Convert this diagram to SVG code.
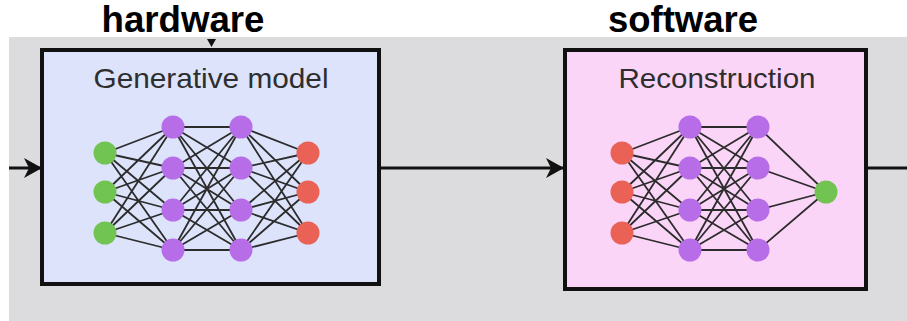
<svg xmlns="http://www.w3.org/2000/svg" xmlns:xlink="http://www.w3.org/1999/xlink" width="907" height="321" viewBox="0 0 907 321">
<style>
.lbl{font-family:"Liberation Sans",Arial,sans-serif;font-weight:bold;font-size:36px;fill:#000;text-anchor:middle}
.ttl{font-family:"Liberation Sans",Arial,sans-serif;font-size:28px;fill:#2e2e2e;text-anchor:middle}
.box{stroke:#111;stroke-width:4}
.edge{stroke:#2c2c2c;stroke-width:1.8;fill:none}
.g{fill:#72c452}.p{fill:#b86de8}.r{fill:#ea6156}
.conn{stroke:#111;stroke-width:3;fill:none}
</style>
<defs>
<marker id="ah" viewBox="0 0 18 20" refX="17" refY="10" markerWidth="18" markerHeight="20" markerUnits="userSpaceOnUse" orient="auto">
<path d="M0 0 L18 10 L0 20 L5 10 Z" fill="#111"/>
</marker>
<path id="e01" class="edge" d="M105 153L173 127M105 153L173 168M105 153L173 210M105 153L173 250M105 192L173 127M105 192L173 168M105 192L173 210M105 192L173 250M105 233L173 127M105 233L173 168M105 233L173 210M105 233L173 250"/>
<path id="e12" class="edge" d="M173 127L241 127M173 127L241 168M173 127L241 210M173 127L241 250M173 168L241 127M173 168L241 168M173 168L241 210M173 168L241 250M173 210L241 127M173 210L241 168M173 210L241 210M173 210L241 250M173 250L241 127M173 250L241 168M173 250L241 210M173 250L241 250"/>
<g id="mid">
<circle class="p" cx="173" cy="127" r="11.5"/><circle class="p" cx="173" cy="168" r="11.5"/><circle class="p" cx="173" cy="210" r="11.5"/><circle class="p" cx="173" cy="250" r="11.5"/>
<circle class="p" cx="241" cy="127" r="11.5"/><circle class="p" cx="241" cy="168" r="11.5"/><circle class="p" cx="241" cy="210" r="11.5"/><circle class="p" cx="241" cy="250" r="11.5"/>
</g>
</defs>
<rect x="9" y="37" width="898" height="284" fill="#dcdcdf"/>
<g id="labels">
<text class="lbl" x="183" y="32" textLength="163" lengthAdjust="spacingAndGlyphs">hardware</text>
<text class="lbl" x="683" y="32" textLength="150" lengthAdjust="spacingAndGlyphs">software</text>
</g>
<g id="generative-model">
<rect class="box" x="42" y="50" width="337" height="234" fill="#dce3fb"/>
<text class="ttl" x="211" y="88" textLength="235" lengthAdjust="spacingAndGlyphs">Generative model</text>
<use xlink:href="#e01"/>
<use xlink:href="#e12"/>
<path class="edge" d="M241 127L308 153M241 127L308 192M241 127L308 233M241 168L308 153M241 168L308 192M241 168L308 233M241 210L308 153M241 210L308 192M241 210L308 233M241 250L308 153M241 250L308 192M241 250L308 233"/>
<circle class="g" cx="105" cy="153" r="11.5"/><circle class="g" cx="105" cy="192" r="11.5"/><circle class="g" cx="105" cy="233" r="11.5"/>
<use xlink:href="#mid"/>
<circle class="r" cx="308" cy="153" r="11.5"/><circle class="r" cx="308" cy="192" r="11.5"/><circle class="r" cx="308" cy="233" r="11.5"/>
</g>
<g id="reconstruction">
<rect class="box" x="565" y="50" width="301" height="239" fill="#fbd5f8"/>
<text class="ttl" x="717" y="88" textLength="197" lengthAdjust="spacingAndGlyphs">Reconstruction</text>
<use xlink:href="#e01" transform="translate(517,0)"/>
<use xlink:href="#e12" transform="translate(517,0)"/>
<path class="edge" d="M758 127L826 192M758 168L826 192M758 210L826 192M758 250L826 192"/>
<circle class="r" cx="622" cy="153" r="11.5"/><circle class="r" cx="622" cy="192" r="11.5"/><circle class="r" cx="622" cy="233" r="11.5"/>
<use xlink:href="#mid" transform="translate(517,0)"/>
<circle class="g" cx="826" cy="192" r="11.5"/>
</g>
<g id="connectors">
<line class="conn" x1="9" y1="168" x2="41" y2="168" marker-end="url(#ah)"/>
<line class="conn" x1="381" y1="168" x2="563" y2="168" marker-end="url(#ah)"/>
<line class="conn" x1="868" y1="168" x2="907" y2="168"/>
<polygon points="207,39 216,39 211.5,47" fill="#111"/>
</g>
</svg>
